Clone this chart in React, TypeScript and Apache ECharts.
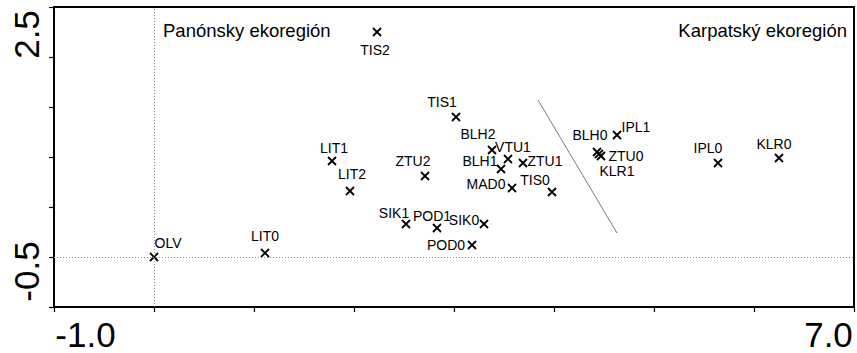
import React, { useEffect, useRef } from "react";
import * as echarts from "echarts";

const siteNames = ["OLV", "LIT0", "LIT1", "LIT2", "TIS2", "TIS1", "ZTU2", "BLH2", "VTU1", "BLH1", "ZTU1", "MAD0", "TIS0", "SIK1", "POD1", "SIK0", "POD0", "BLH0", "KLR1", "ZTU0", "IPL1", "IPL0", "KLR0"];
const axis1Scores = [0, 1.11, 1.78, 1.96, 2.23, 3.02, 2.71, 3.38, 3.54, 3.47, 3.69, 3.58, 3.98, 2.52, 2.83, 3.3, 3.18, 4.43, 4.45, 4.47, 4.63, 5.64, 6.25];
const axis2Scores = [0, 0.04, 0.96, 0.66, 2.25, 1.4, 0.81, 1.07, 0.98, 0.88, 0.94, 0.69, 0.65, 0.33, 0.29, 0.33, 0.12, 1.05, 1.03, 1.01, 1.22, 0.94, 0.99];
const boundaryX = [3.84, 4.63];
const boundaryY = [1.57, 0.24];
const xTickLabels = ["-1.0", "7.0"];
const yTickLabels = ["-0.5", "2.5"];
const regionLabels = ["Panónsky ekoregión", "Karpatský ekoregión"];

// label placement (style only): offset of label centre from marker
const labelOffsets: Record<string, [number, number]> = {
  OLV: [14, -14], LIT0: [0, -17], LIT1: [2, -13], LIT2: [2, -17], TIS2: [-2, 18],
  TIS1: [-14, -15], ZTU2: [-12, -15], BLH2: [-14, -16], VTU1: [5, -12], BLH1: [-21, -8],
  ZTU1: [22, -2], MAD0: [-26, -4], TIS0: [-17, -12], SIK1: [-12, -11], POD1: [-5, -12],
  SIK0: [-20, -4], POD0: [-26, 0], BLH0: [-7, -17], KLR1: [18, 17], ZTU0: [25, 0],
  IPL1: [19, -8], IPL0: [-10, -15], KLR0: [-5, -14],
};

const FONT = "'Liberation Sans', Arial, sans-serif";

export default function App() {
  const ref = useRef<HTMLDivElement>(null);
  useEffect(() => {
    if (!ref.current) return;
    const chart = echarts.init(ref.current, undefined, { renderer: "svg" });
    const points = siteNames.map((n, i) => ({
      name: n,
      value: [axis1Scores[i], axis2Scores[i]],
      label: { offset: labelOffsets[n] || [0, -14] },
    }));
    chart.setOption({
      animation: false,
      backgroundColor: "#fff",
      grid: { left: 54, right: 3, top: 7, bottom: 46, show: true, borderColor: "#000", borderWidth: 2, backgroundColor: "transparent" },
      xAxis: {
        type: "value", min: -1, max: 7, interval: 1,
        axisLine: { show: true, onZero: false, lineStyle: { color: "#000", width: 2 } },
        axisTick: { show: true, length: 5, lineStyle: { color: "#000", width: 1.2 } },
        splitLine: { show: false },
        axisLabel: {
          show: true, margin: 10, color: "#000", fontFamily: FONT, fontSize: 35,
          formatter: (v: number) => (v === -1 ? `{mn|${xTickLabels[0]}}` : v === 7 ? `{mx|${xTickLabels[1]}}` : ""),
          rich: {
            mn: { fontFamily: FONT, fontSize: 35, color: "#000", padding: [0, 0, 0, 63] },
            mx: { fontFamily: FONT, fontSize: 35, color: "#000", padding: [0, 51, 0, 0] },
          },
        },
      },
      yAxis: {
        type: "value", min: -0.5, max: 2.5, interval: 0.5,
        axisLine: { show: true, onZero: false, lineStyle: { color: "#000", width: 2 } },
        axisTick: { show: true, length: 5, lineStyle: { color: "#000", width: 1.2 } },
        splitLine: { show: false },
        axisLabel: {
          show: true, rotate: 90, margin: 10, color: "#000", fontFamily: FONT, fontSize: 35,
          formatter: (v: number) => (v === -0.5 ? `{mn|${yTickLabels[0]}}` : v === 2.5 ? `{mx|${yTickLabels[1]}}` : ""),
          rich: {
            mn: { fontFamily: FONT, fontSize: 35, color: "#000", padding: [0, 0, 0, 71] },
            mx: { fontFamily: FONT, fontSize: 35, color: "#000", padding: [0, 55, 0, 0] },
          },
        },
      },
      graphic: [
        { type: "text", left: 163, top: 21, style: { text: regionLabels[0], font: `18.5px ${FONT}`, fill: "#000" } },
        { type: "text", right: 10, top: 21, style: { text: regionLabels[1], font: `18.5px ${FONT}`, fill: "#000" } },
      ],
      series: [
        {
          type: "line",
          data: boundaryX.map((x, i) => [x, boundaryY[i]]),
          symbol: "none",
          lineStyle: { color: "#777", width: 1 },
          silent: true,
          z: 1,
        },
        {
          type: "scatter",
          data: points,
          symbol: "path://M0 0L10 10M10 0L0 10",
          symbolSize: 8,
          itemStyle: { color: "transparent", borderColor: "#000", borderWidth: 1.8, opacity: 1 },
          label: {
            show: true, position: "inside", formatter: "{b}", color: "#000",
            fontFamily: FONT, fontSize: 14,
          },
          markLine: {
            silent: true, symbol: "none", label: { show: false },
            lineStyle: { color: "#888", type: [1, 2], width: 1 },
            data: [{ xAxis: 0 }, { yAxis: 0 }],
          },
          z: 3,
        },
      ],
    });
    return () => chart.dispose();
  }, []);
  return <div ref={ref} style={{ width: 857, height: 353, position: "absolute", left: 0, top: 0 }} />;
}
